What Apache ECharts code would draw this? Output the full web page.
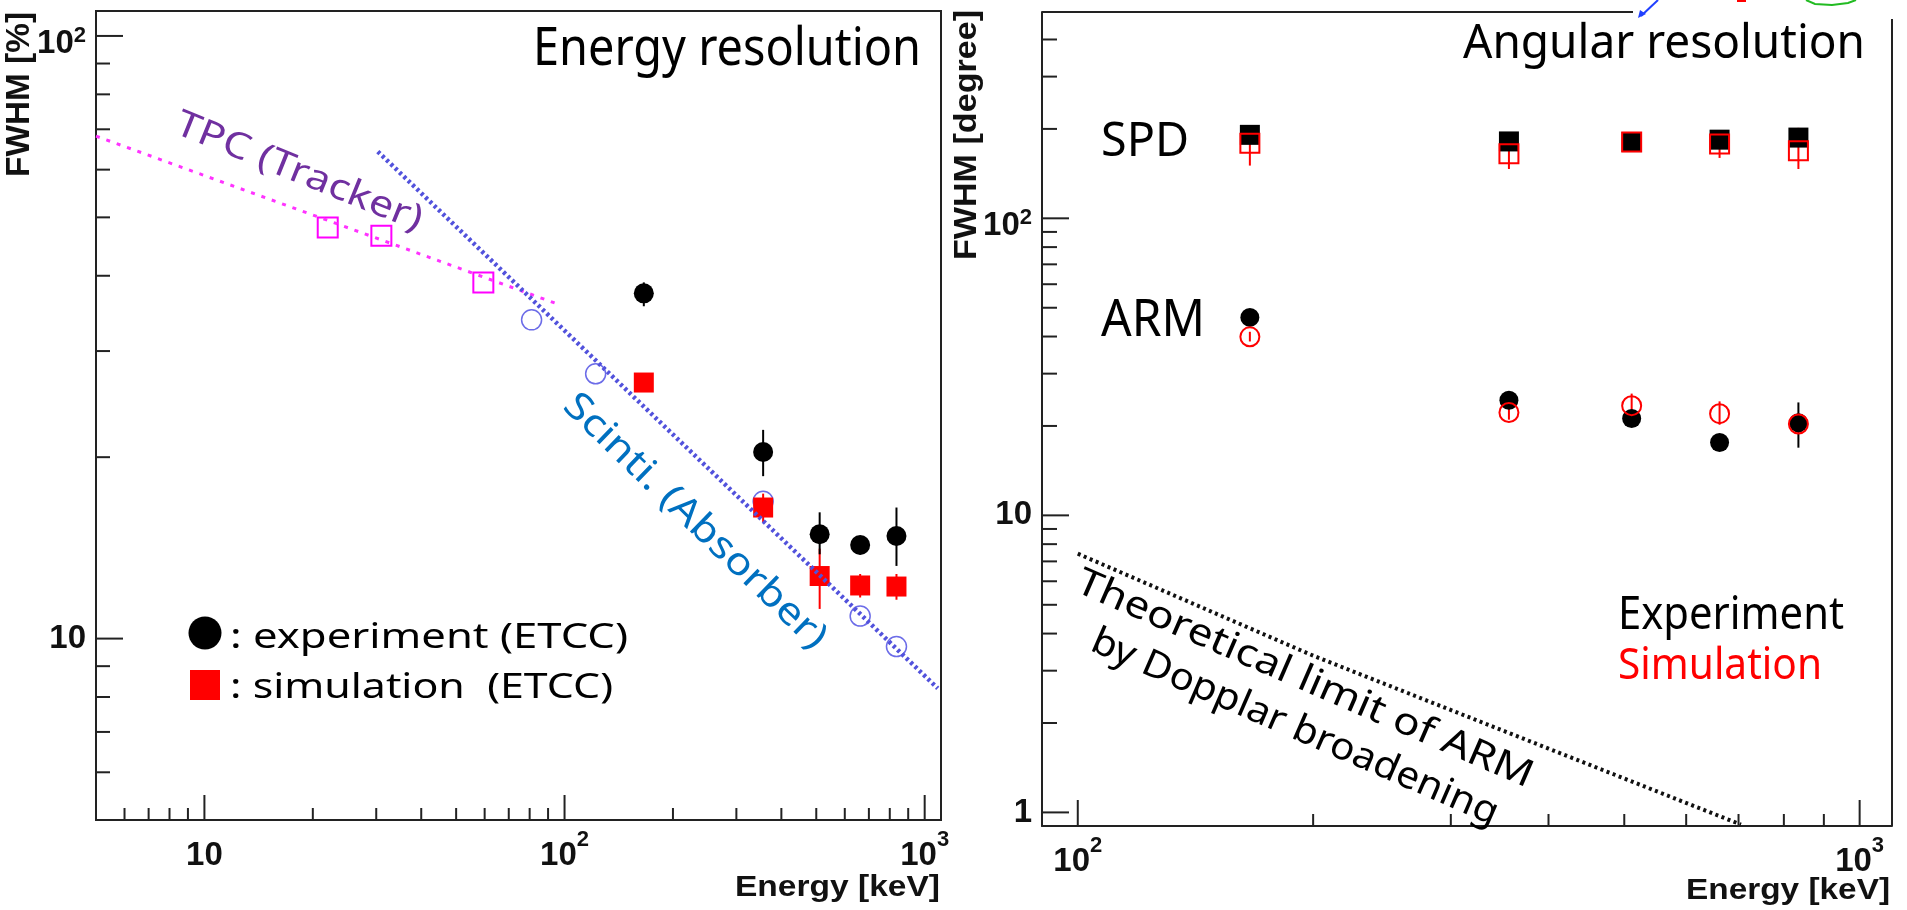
<!DOCTYPE html>
<html>
<head>
<meta charset="utf-8">
<title>Energy and angular resolution</title>
<script src="https://cdn.jsdelivr.net/npm/echarts@6/dist/echarts.min.js"></script>
<style>
  html, body { margin: 0; padding: 0; background: #fff; }
  #chart { width: 1907px; height: 910px; }
</style>
</head>
<body>
<div id="chart"></div>
<script>
// ---- values ----
// left panel: energy resolution, FWHM [%] vs energy [keV]
var etccEnergy = [166, 356, 511, 662, 835];
var expEnergyRes = [37.4, 20.4, 14.9, 14.3, 14.8];
var expEnergyLow = [35.6, 18.6, 13.8, 13.8, 13.2];
var expEnergyHigh = [39.0, 22.2, 16.2, 14.8, 16.5];
var simEnergyRes = [26.6, 16.5, 12.7, 12.25, 12.2];
var simEnergyLow = [26.0, 15.6, 11.2, 11.7, 11.6];
var simEnergyHigh = [27.2, 17.4, 14.1, 12.8, 12.8];
var tpcEnergy = [22, 31, 59.5];
var tpcRes = [48.1, 46.6, 39.0];
var tpcFitEnergy = [5, 97];
var tpcFitRes = [68.2, 35.8];
var scintiEnergy = [81, 122, 356, 662, 835];
var scintiRes = [33.8, 27.5, 16.9, 10.9, 9.7];
var scintiFitEnergy = [30.3, 1087];
var scintiFitRes = [64.3, 8.27];

// right panel: angular resolution, FWHM [degree] vs energy [keV]
var angEnergy = [166, 356, 511, 662, 835];
var spdExp = [191, 181.5, 180.6, 184, 187];
var spdExpLow = [183, 175, 176, 177, 180];
var spdExpHigh = [199, 188, 185, 191, 194];
var spdSim = [179, 165, 180.6, 178, 169];
var spdSimLow = [150.5, 146.6, 175, 159.7, 146.6];
var spdSimHigh = [204, 185, 186, 196, 201.6];
var armExp = [46.4, 24.4, 21.2, 17.6, 20.5];
var armExpLow = [44.5, 23.4, 19.9, 17.0, 16.9];
var armExpHigh = [48.5, 25.6, 22.5, 18.3, 24.0];
var armSim = [39.9, 22.2, 23.4, 22.0, 20.3];
var armSimLow = [38.5, 21.0, 20.5, 20.2, 19.0];
var armSimHigh = [41.5, 23.5, 25.7, 24.2, 22.0];
var limitEnergy = [100, 200, 400, 705];
var limitArm = [7.43, 3.37, 1.64, 0.91];

// axis ranges and tick labels (base, exponent)
var leftX = [5, 1110], leftY = [5, 110];
var rightX = [90, 1100], rightY = [0.9, 495];
var leftXTicks = [10, 100, 1000], leftXLabels = [['10', ''], ['10', '2'], ['10', '3']];
var leftYTicks = [10, 100], leftYLabels = [['10', ''], ['10', '2']];
var rightXTicks = [100, 1000], rightXLabels = [['10', '2'], ['10', '3']];
var rightYTicks = [1, 10, 100], rightYLabels = [['1', ''], ['10', ''], ['10', '2']];

var chart = echarts.init(document.getElementById('chart'));

function labelFor(vals, labels, base, raised) {
    return function (v) {
        for (var i = 0; i < vals.length; i++) {
            if (Math.abs(v / vals[i] - 1) < 1e-6) {
                var l = labels[i];
                return l[1] ? '{' + raised + '|' + l[0] + '}{p|' + l[1] + '}' : '{' + base + '|' + l[0] + '}';
            }
        }
        return '';
    };
}

function pairs(xs, ys) {
    return xs.map(function (x, i) { return [x, ys[i]]; });
}

// log ticks 1..9 per decade, inside the range
function logTicks(range) {
    var out = [];
    for (var d = Math.floor(Math.log10(range[0])); d <= Math.ceil(Math.log10(range[1])); d++) {
        for (var k = 1; k <= 9; k++) {
            var v = k * Math.pow(10, d);
            if (v > range[0] * 1.001 && v < range[1] * 0.999) out.push([v, k === 1]);
        }
    }
    return out;
}

// ROOT style ticks drawn inside the frame
function tickSeries(gi, xr, yr, len) {
    var data = [];
    logTicks(xr).forEach(function (t) { data.push([t[0], yr[0], t[1] ? len[0] : len[1], 0]); });
    logTicks(yr).forEach(function (t) { data.push([xr[0], t[0], t[1] ? len[2] : len[3], 1]); });
    return {
        type: 'custom', xAxisIndex: gi, yAxisIndex: gi, silent: true, z: 5,
        data: data,
        encode: { x: 0, y: 1 },
        renderItem: function (params, api) {
            var p = api.coord([api.value(0), api.value(1)]);
            var l = api.value(2);
            var vert = api.value(3) === 0;
            return {
                type: 'line',
                shape: { x1: p[0], y1: p[1], x2: vert ? p[0] : p[0] + l, y2: vert ? p[1] - l : p[1] },
                style: { stroke: '#222', lineWidth: 2 }
            };
        }
    };
}

function errSeries(gi, xs, lo, hi, color) {
    return {
        type: 'custom', xAxisIndex: gi, yAxisIndex: gi, silent: true,
        data: xs.map(function (x, i) { return [x, lo[i], hi[i]]; }),
        encode: { x: 0, y: [1, 2] },
        renderItem: function (params, api) {
            var a = api.coord([api.value(0), api.value(1)]);
            var b = api.coord([api.value(0), api.value(2)]);
            return {
                type: 'line',
                shape: { x1: a[0], y1: a[1], x2: b[0], y2: b[1] },
                style: { stroke: color, lineWidth: 2 }
            };
        }
    };
}

function points(gi, xs, ys, symbol, size, fill, stroke, bw) {
    return {
        type: 'scatter', xAxisIndex: gi, yAxisIndex: gi, silent: true,
        symbol: symbol, symbolSize: size,
        data: pairs(xs, ys),
        itemStyle: { color: fill, borderColor: stroke, borderWidth: bw, opacity: 1 }
    };
}

function fitLine(gi, xs, ys, color, width, dash) {
    return {
        type: 'line', xAxisIndex: gi, yAxisIndex: gi, silent: true,
        showSymbol: false, symbol: 'none',
        data: pairs(xs, ys),
        lineStyle: { color: color, width: width, type: dash }
    };
}

// text with its box fitted: left-middle anchor, cap height, length, angle
var measure = document.createElement('canvas').getContext('2d');
function note(text, x, y, cap, width, color, deg, family, weight) {
    family = family || 'Noto Sans';
    weight = weight || 'normal';
    var size = cap / 0.715;
    measure.font = weight + ' ' + size + 'px "' + family + '"';
    var w = measure.measureText(text).width;
    return {
        type: 'text', x: x, y: y, z: 100,
        rotation: (deg || 0) * Math.PI / 180,
        scaleX: width / w,
        style: {
            text: text, fill: color, fontSize: size, fontFamily: family, fontWeight: weight,
            align: 'left', verticalAlign: 'middle'
        }
    };
}

var labelFont = { fontFamily: 'Liberation Sans', fontWeight: 'bold', color: '#111' };
function tok(size, extra) {
    return Object.assign({ fontSize: size }, labelFont, extra);
}

function xAxisOpt(gi, range, ticks, labels, line) {
    return {
        type: 'log', gridIndex: gi, logBase: 10, min: range[0], max: range[1],
        axisLine: { show: line, onZero: false, lineStyle: { color: '#222', width: 2 } },
        axisTick: { show: false }, splitLine: { show: false },
        axisLabel: {
            formatter: labelFor(ticks, labels, 'n', 'n'), margin: 9,
            rich: {
                n: tok(33, { padding: [10, 0, 0, 0], verticalAlign: 'bottom' }),
                p: tok(22, { verticalAlign: 'top' })
            }
        }
    };
}
function yAxisOpt(gi, range, ticks, labels, line) {
    return {
        type: 'log', gridIndex: gi, logBase: 10, min: range[0], max: range[1],
        axisLine: { show: line, onZero: false, lineStyle: { color: '#222', width: 2 } },
        axisTick: { show: false }, splitLine: { show: false },
        axisLabel: {
            formatter: labelFor(ticks, labels, 'n', 'm'), margin: 10,
            rich: {
                n: tok(33, { verticalAlign: 'middle' }),
                m: tok(33, { padding: [16, 0, 0, 0], verticalAlign: 'bottom' }),
                p: tok(22, { verticalAlign: 'middle' })
            }
        }
    };
}

var option = {
    animation: false,
    backgroundColor: '#fff',
    grid: [
        { left: 96, top: 11, width: 845, height: 809, show: true, borderColor: '#222', borderWidth: 2, outerBoundsMode: 'none' },
        { left: 1042, top: 12, width: 850, height: 814, show: false, outerBoundsMode: 'none' }
    ],
    xAxis: [
        xAxisOpt(0, leftX, leftXTicks, leftXLabels, false),
        xAxisOpt(1, rightX, rightXTicks, rightXLabels, true)
    ],
    yAxis: [
        yAxisOpt(0, leftY, leftYTicks, leftYLabels, false),
        yAxisOpt(1, rightY, rightYTicks, rightYLabels, true)
    ],
    series: [
        // energy resolution
        fitLine(0, tpcFitEnergy, tpcFitRes, '#ff33ff', 3, [4, 7]),
        fitLine(0, scintiFitEnergy, scintiFitRes, '#5252dc', 4.5, [3, 3]),
        points(0, tpcEnergy, tpcRes, 'rect', 20, 'rgba(0,0,0,0)', '#ff00ff', 2),
        points(0, scintiEnergy, scintiRes, 'circle', 20, 'rgba(0,0,0,0)', '#6c6ce8', 1.5),
        errSeries(0, etccEnergy, simEnergyLow, simEnergyHigh, '#ff0000'),
        points(0, etccEnergy, simEnergyRes, 'rect', 20, '#ff0000', '#ff0000', 0),
        errSeries(0, etccEnergy, expEnergyLow, expEnergyHigh, '#000'),
        points(0, etccEnergy, expEnergyRes, 'circle', 20, '#000', '#000', 0),
        tickSeries(0, leftX, leftY, [25, 12, 27, 14]),
        // angular resolution
        fitLine(1, limitEnergy, limitArm, '#111', 4, [3, 3.5]),
        errSeries(1, angEnergy, spdExpLow, spdExpHigh, '#000'),
        points(1, angEnergy, spdExp, 'rect', 20, '#000', '#000', 0),
        errSeries(1, angEnergy, spdSimLow, spdSimHigh, '#ff0000'),
        points(1, angEnergy, spdSim, 'rect', 19, 'rgba(0,0,0,0)', '#ff0000', 2),
        errSeries(1, angEnergy, armExpLow, armExpHigh, '#000'),
        points(1, angEnergy, armExp, 'circle', 19, '#000', '#000', 0),
        errSeries(1, angEnergy, armSimLow, armSimHigh, '#ff0000'),
        points(1, angEnergy, armSim, 'circle', 19, 'rgba(0,0,0,0)', '#ff0000', 2),
        tickSeries(1, rightX, rightY, [26, 12, 27, 15])
    ],
    graphic: {
        elements: [
            // axis titles
            note('FWHM [%]', 20, 177, 24, 165, '#111', 90, 'Liberation Sans', 'bold'),
            note('Energy [keV]', 735, 887.5, 21.6, 205, '#111', 0, 'Liberation Sans', 'bold'),
            note('FWHM [degree]', 968, 260, 22, 250, '#111', 90, 'Liberation Sans', 'bold'),
            note('Energy [keV]', 1686, 891, 21.6, 204, '#111', 0, 'Liberation Sans', 'bold'),
            // left panel notes
            note('Energy resolution', 533, 50.5, 37.6, 388, '#000'),
            note('TPC (Tracker)', 177, 123, 26, 263, '#7030a0', -22),
            note('Scinti. (Absorber)', 569, 400, 27, 350, '#0070c0', -44),
            { type: 'circle', z: 100, shape: { cx: 205, cy: 633, r: 16.5 }, style: { fill: '#000' } },
            note(': experiment (ETCC)', 230, 638, 25, 398, '#000'),
            { type: 'rect', z: 100, shape: { x: 190, y: 670, width: 30, height: 30 }, style: { fill: '#ff0000' } },
            note(': simulation  (ETCC)', 230, 688, 25, 383, '#000'),
            // right panel notes
            note('Angular resolution', 1463, 45, 33.4, 402, '#000'),
            note('SPD', 1101, 142.7, 33.3, 88, '#000'),
            note('ARM', 1101, 321.7, 36, 104, '#000'),
            note('Experiment', 1618, 616.3, 32.7, 226, '#000'),
            note('Simulation', 1618, 667, 30.7, 204, '#ff0000'),
            note('Theoretical limit of ARM', 1078, 581, 27, 494, '#000', -23.5),
            note('by Dopplar broadening', 1093, 640, 27, 440, '#000', -23.5),
            // right panel frame: top and right edges as in the picture
            { type: 'line', z: 10, shape: { x1: 1042, y1: 12, x2: 1633, y2: 12 }, style: { stroke: '#222', lineWidth: 2 } },
            { type: 'line', z: 10, shape: { x1: 1892, y1: 19, x2: 1892, y2: 826 }, style: { stroke: '#222', lineWidth: 2 } },
            // cropped strokes at the top edge
            { type: 'line', z: 10, shape: { x1: 1658, y1: 0, x2: 1641, y2: 16 }, style: { stroke: '#2040ff', lineWidth: 2 } },
            { type: 'polygon', z: 10, shape: { points: [[1638, 18], [1640, 10], [1646, 14]] }, style: { fill: '#2040ff' } },
            { type: 'rect', z: 10, shape: { x: 1737, y: 0, width: 9, height: 2 }, style: { fill: '#ff0000' } },
            { type: 'polyline', z: 10, shape: { points: [[1806, 0], [1815, 4], [1832, 5], [1848, 3], [1856, 0]] }, style: { stroke: '#22bb22', lineWidth: 2, fill: null } }
        ]
    }
};

chart.setOption(option);
</script>
</body>
</html>
